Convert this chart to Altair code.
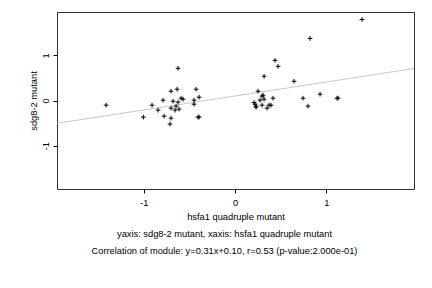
import altair as alt
import pandas as pd

x_vals = [-1.412, -1.004, -0.909, -0.843, -0.788, -0.777, -0.712, -0.701, -0.701, -0.701,
          -0.679, -0.657, -0.646, -0.635, -0.624, -0.624, -0.613, -0.591, -0.569, -0.449,
          -0.449, -0.427, -0.394, -0.405, -0.394,
          0.208, 0.219, 0.230, 0.230, 0.252, 0.274, 0.296, 0.296, 0.307, 0.318,
          0.318, 0.350, 0.372, 0.394, 0.416, 0.438, 0.471, 0.646, 0.745, 0.799,
          0.821, 0.931, 1.117, 1.128, 1.391]
y_vals = [-0.103, -0.368, -0.103, -0.213, 0.007, -0.346, -0.522, 0.206, -0.169, -0.390,
          -0.015, -0.213, -0.125, 0.250, -0.037, 0.713, -0.191, 0.051, 0.029, 0.007,
          -0.081, 0.250, 0.074, -0.368, -0.368,
          -0.044, -0.081, -0.125, -0.147, 0.206, 0.007, 0.096, -0.103, 0.118, 0.537,
          0.029, -0.169, -0.103, -0.103, 0.051, 0.890, 0.757, 0.426, 0.051, -0.125,
          1.375, 0.140, 0.051, 0.051, 1.794]

slope = 0.31
intercept = 0.10
line_x = [-1.96, 1.96]

x_dom = [-1.95, 1.96]
y_dom = [-1.96, 1.96]
ticks = [-1, 0, 1]

FONT = "Liberation Sans"
FS = 9.3

pts = pd.DataFrame({"x": x_vals, "y": y_vals})
ln = pd.DataFrame({"x": line_x})

xs = alt.Scale(domain=x_dom, nice=False, zero=False)
ys = alt.Scale(domain=y_dom, nice=False, zero=False)

xaxis = alt.Axis(values=ticks, grid=False, tickSize=4, tickColor="black", domain=False,
                 labelExpr="'' + datum.value",
                 labelFont=FONT, labelFontSize=FS, labelColor="black", labelPadding=5,
                 title="hsfa1 quadruple mutant", titleFont=FONT, titleFontSize=FS,
                 titleFontWeight="normal", titleColor="black", titlePadding=5)
yaxis = alt.Axis(values=ticks, grid=False, tickSize=4, tickColor="black", domain=False,
                 labelExpr="'' + datum.value",
                 labelFont=FONT, labelFontSize=FS, labelColor="black", labelAngle=270,
                 labelAlign="center", labelBaseline="bottom", labelPadding=3,
                 title="sdg8-2 mutant", titleFont=FONT, titleFontSize=FS,
                 titleFontWeight="normal", titleColor="black",
                 titleX=-24, titleY=88.5, titleAngle=270, titleAlign="center",
                 titleBaseline="middle")

line = alt.Chart(ln).transform_calculate(
    y=f"{slope}*datum.x+{intercept}"
).mark_line(color="#c8c8c8", strokeWidth=1, clip=True).encode(
    x=alt.X("x:Q", scale=xs, axis=xaxis),
    y=alt.Y("y:Q", scale=ys, axis=yaxis),
)

points = alt.Chart(pts).mark_point(
    shape="M-1,0L1,0M0,-1L0,1", size=22, color="black", strokeWidth=1, filled=False, opacity=1
).encode(
    x=alt.X("x:Q", scale=xs),
    y=alt.Y("y:Q", scale=ys),
)

chart = (line + points).properties(
    width=357, height=177,
    padding={"left": 57, "top": 12, "right": 18, "bottom": 99},
    autosize=alt.AutoSizeParams(type="none"),
    background="white",
    title=alt.TitleParams(
        text="yaxis: sdg8-2 mutant, xaxis: hsfa1 quadruple mutant",
        subtitle="Correlation of module: y=0.31x+0.10, r=0.53 (p-value:2.000e-01)",
        orient="bottom", anchor="middle", frame="group", dx=-11, offset=8,
        font=FONT, fontSize=FS, fontWeight="normal", color="black",
        subtitleFont=FONT, subtitleFontSize=FS, subtitleColor="black", subtitlePadding=8,
    ),
).configure_view(stroke="#333333", strokeWidth=1)

chart.save("out.html", embed_options={"renderer": "svg", "actions": False})
